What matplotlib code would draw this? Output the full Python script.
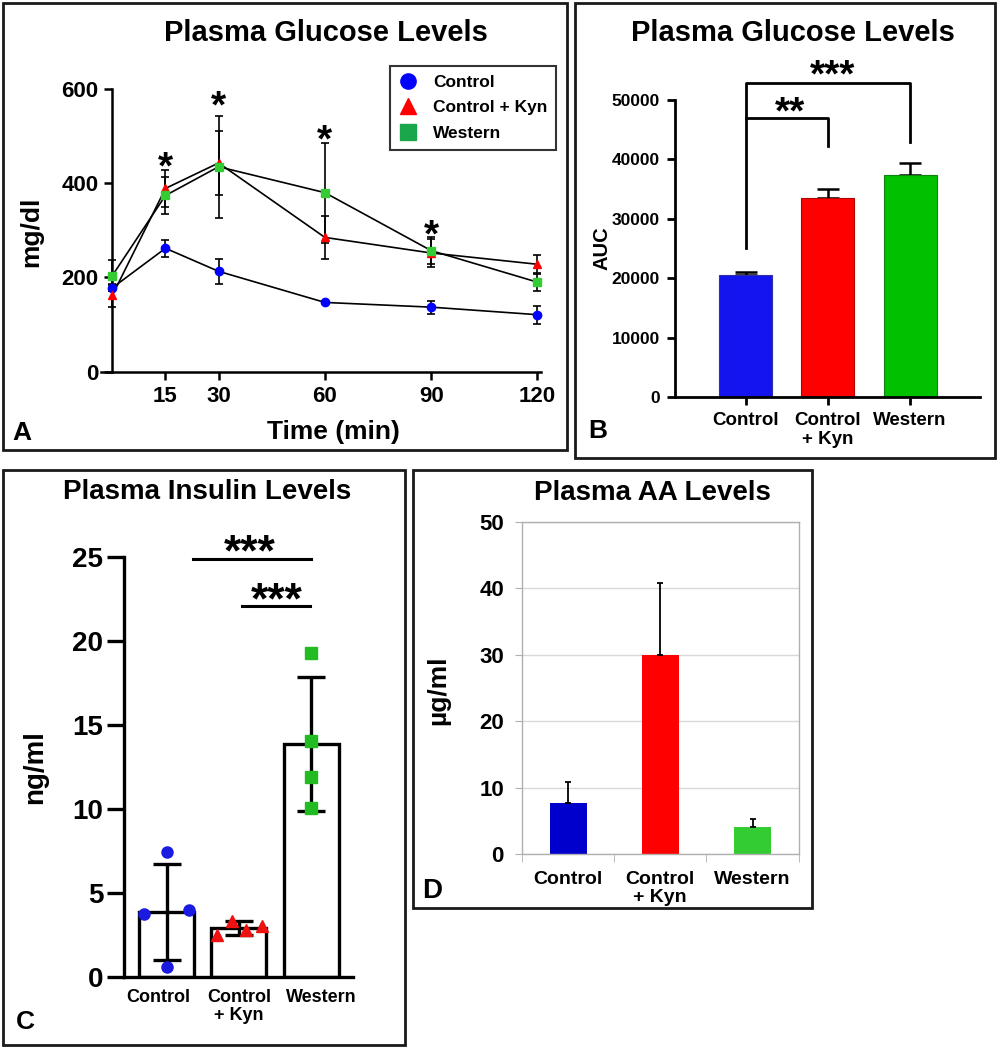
import numpy as np
import matplotlib
matplotlib.use('agg')
import matplotlib.pyplot as plt
from matplotlib.patches import Rectangle
from matplotlib.lines import Line2D
from matplotlib.transforms import offset_copy

plt.rcParams['font.family'] = ['Liberation Sans', 'DejaVu Sans']
plt.rcParams['font.weight'] = 'bold'

# ---- data ----
groups = ['Control', 'Control\n+ Kyn', 'Western']

# A: glucose tolerance curve, mg/dl
time_min = [0, 15, 30, 60, 90, 120]
glc_ctrl = [178, 262, 213, 147, 137, 121]
glc_ctrl_err = [6, 18, 27, 4, 14, 19]
glc_kyn = [162, 389, 443, 285, 252, 228]
glc_kyn_err = [24, 39, 67, 45, 30, 19]
glc_west = [204, 374, 435, 380, 257, 190]
glc_west_err = [33, 40, 108, 106, 28, 18]
star_times = [15, 30, 60, 90]
star_levels = [449, 577, 506, 304]

# B: glucose AUC
auc_mean = [20600, 33500, 37400]
auc_err = [500, 1600, 2000]

# C: insulin, ng/ml
ins_mean = [3.85, 2.9, 13.85]
ins_sd = [2.85, 0.4, 4.0]
ins_ctrl_pts = [7.4, 3.75, 4.0, 0.6]
ins_kyn_pts = [2.5, 3.3, 2.8, 3.0]
ins_west_pts = [19.3, 14.05, 11.9, 10.05]

# D: plasma AA, ug/ml
aa_mean = [7.6, 30.0, 4.1]
aa_err = [3.3, 10.8, 1.1]

# ---- layout helpers (pixel coords, origin top-left) ----
W, H = 999, 1050
fig = plt.figure(figsize=(W / 100, H / 100), dpi=100)


def fx(x):
    return x / W


def fy(y):
    return 1 - y / H


def px_axes(x0, y0, x1, y1):
    return fig.add_axes([fx(x0), fy(y1), (x1 - x0) / W, (y1 - y0) / H])


def box(x0, y0, x1, y1):
    fig.add_artist(Rectangle((fx(x0), fy(y1)), (x1 - x0) / W, (y1 - y0) / H,
                             transform=fig.transFigure, fill=False,
                             lw=2, ec='#1a1a1a'))


def ftext(x, y, s, size, **kw):
    fig.text(fx(x), fy(y), s, fontsize=size, fontweight='bold',
             ha=kw.pop('ha', 'center'), va=kw.pop('va', 'center'), **kw)


def stars(ax, x, y, s, size, dy=-8):
    # asterisks sit high in the text box, so pull them down a little
    tr = offset_copy(ax.transData, fig=fig, y=dy, units='dots')
    ax.text(x, y, s, fontsize=size, fontweight='bold', ha='center',
            va='center', transform=tr, clip_on=False)


blue, red = '#0000ff', '#ff0000'

# ================= A =================
box(3, 3, 567, 450)
ax = px_axes(101, 89, 541, 371.7)
ax.set_xlim(-3.2, 121)
ax.set_ylim(0, 600)
for sp in ['top', 'right']:
    ax.spines[sp].set_visible(False)
ax.spines['left'].set_position(('data', 0))
for sp in ['left', 'bottom']:
    ax.spines[sp].set_linewidth(1.8)
ax.set_yticks([0, 200, 400, 600])
ax.set_xticks([15, 30, 60, 90, 120])
ax.tick_params(width=1.8, length=6, labelsize=16, pad=4)

series = [(glc_ctrl, glc_ctrl_err, 'o', blue),
          (glc_kyn, glc_kyn_err, '^', red),
          (glc_west, glc_west_err, 's', '#33cc33')]
for vals, err, mk, col in series:
    ax.errorbar(time_min, vals, yerr=err, color='k', lw=1.2, elinewidth=1.2,
                capsize=3, capthick=1.2, clip_on=False, zorder=2)
    ax.plot(time_min, vals, mk, color=col, ms=6, mec=col, clip_on=False, zorder=3)
for t, lev in zip(star_times, star_levels):
    stars(ax, t, lev, '*', 28)

handles = [Line2D([], [], ls='', marker='o', color=blue, ms=11),
           Line2D([], [], ls='', marker='^', color=red, ms=11),
           Line2D([], [], ls='', marker='s', color='#1aa64a', ms=11)]
leg = fig.legend(handles, ['Control', 'Control + Kyn', 'Western'],
                 loc='upper left', bbox_to_anchor=(fx(390), fy(66)),
                 borderaxespad=0, fontsize=12.5, frameon=True, fancybox=False,
                 handlelength=1.1, handletextpad=0.9, borderpad=0.5,
                 labelspacing=0.6)
leg.get_frame().set_edgecolor('k')
leg.get_frame().set_linewidth(1.5)

ftext(326, 33, 'Plasma Glucose Levels', 21)
ftext(31, 232, 'mg/dl', 19, rotation=90)
ftext(333, 432, 'Time (min)', 19)
ftext(22, 433, 'A', 19)

# ================= B =================
box(575, 3, 995, 458)
ax = px_axes(675, 100, 980, 397)
xb = np.arange(len(groups))
ax.bar(xb, auc_mean, width=0.645, color=['#1414f0', '#ff0000', '#00c000'],
       edgecolor=['#3030a0', '#b00000', '#108010'], lw=0.8, zorder=2)
ax.errorbar(xb, auc_mean, yerr=[np.zeros(3), auc_err], fmt='none', ecolor='k',
            elinewidth=1.8, capsize=8, capthick=1.8, zorder=1)
ax.set_xlim(-0.86, 2.85)
ax.set_ylim(0, 50000)
for sp in ['top', 'right']:
    ax.spines[sp].set_visible(False)
for sp in ['left', 'bottom']:
    ax.spines[sp].set_linewidth(2)
ax.set_yticks(np.arange(0, 50001, 10000))
ax.set_xticks(xb)
ax.set_xticklabels(groups, fontsize=13.5, fontweight='bold', linespacing=1.1)
ax.tick_params(width=2, length=6, pad=5)
ax.tick_params(axis='y', labelsize=12.5)

# significance brackets
ax.plot([0, 0, 2, 2], [25100, 52800, 52800, 43000], color='k', lw=2, clip_on=False)
ax.plot([0, 1, 1], [46900, 46900, 42300], color='k', lw=2, clip_on=False)
stars(ax, 1.06, 55300, '***', 28)
stars(ax, 0.54, 49000, '**', 28)

ftext(793, 33, 'Plasma Glucose Levels', 21)
ftext(602, 248, 'AUC', 14.5, rotation=90)
ftext(598, 431, 'B', 19)

# ================= C =================
box(3, 470, 405, 1045)
ax = px_axes(124, 557, 353, 976.7)
xc = np.arange(len(groups))
ax.bar(xc, ins_mean, width=0.76, color='white', edgecolor='k', lw=2.4, zorder=1)
ax.errorbar(xc, ins_mean, yerr=ins_sd, fmt='none', ecolor='k', elinewidth=2.4,
            capsize=10, capthick=2.4, zorder=2)
pt_sets = [(ins_ctrl_pts, [0, -0.31, 0.31, 0], 'o', '#1a1ae0'),
           (ins_kyn_pts, [-0.3, -0.09, 0.1, 0.32], '^', '#ee1111'),
           (ins_west_pts, [0, 0, 0, 0], 's', '#22bb22')]
for i, (pts, offs, mk, col) in enumerate(pt_sets):
    ax.plot(i + np.array(offs), pts, mk, color=col, ms=8, mec=col, zorder=3,
            clip_on=False)
ax.set_xlim(-0.59, 2.58)
ax.set_ylim(0, 25)
for sp in ['top', 'right']:
    ax.spines[sp].set_visible(False)
for sp in ['left', 'bottom']:
    ax.spines[sp].set_linewidth(2.4)
ax.set_yticks(np.arange(0, 26, 5))
ax.tick_params(axis='y', width=2.4, length=12, labelsize=20, pad=3)
# labels sit a little wider apart than the bars
ax.set_xticks(xc + np.array([-0.12, 0.0, 0.14]))
ax.set_xticklabels(groups, fontsize=13, fontweight='bold', linespacing=1.1)
ax.tick_params(axis='x', length=0, pad=9)

ax.plot([0.36, 2.0], [24.9, 24.9], color='k', lw=2.2, clip_on=False)
ax.plot([1.04, 1.98], [22.1, 22.1], color='k', lw=2.2, clip_on=False)
stars(ax, 1.15, 25.8, '***', 32, dy=-10)
stars(ax, 1.52, 22.9, '***', 32, dy=-10)

ftext(207, 492, 'Plasma Insulin Levels', 20)
ftext(35, 767, 'ng/ml', 20, rotation=90)
ftext(25, 1022, 'C', 19)

# ================= D =================
box(413, 470, 812, 908)
ax = px_axes(522, 521.7, 798.6, 854)
xd = np.arange(len(groups))
ax.bar(xd, aa_mean, width=0.40, color=['#0000cc', '#ff0000', '#33cc33'], zorder=2)
ax.errorbar(xd, aa_mean, yerr=[np.zeros(3), aa_err], fmt='none', ecolor='k',
            elinewidth=1.3, capsize=2, capthick=1.3, zorder=3)
ax.set_xlim(-0.5, 2.5)
ax.set_ylim(0, 50)
for sp in ax.spines.values():
    sp.set_color('#b0b0b0')
    sp.set_linewidth(1)
ax.set_yticks(np.arange(0, 51, 10))
ax.yaxis.grid(True, color='#d9d9d9', lw=1)
ax.set_axisbelow(True)
ax.tick_params(axis='y', labelsize=16, length=5, color='#b0b0b0', pad=8)
ax.set_xticks(xd)
ax.set_xticklabels(groups, fontsize=14, fontweight='bold', linespacing=1.1)
ax.set_xticks([-0.5, 0.5, 1.5, 2.5], minor=True)
ax.tick_params(axis='x', which='major', length=0, pad=12)
ax.tick_params(axis='x', which='minor', length=6, color='#b0b0b0')

ftext(652, 493, 'Plasma AA Levels', 20)
ftext(438, 690, 'µg/ml', 19, rotation=90)
ftext(432, 891, 'D', 20)

fig.savefig('out.png', dpi=100)
